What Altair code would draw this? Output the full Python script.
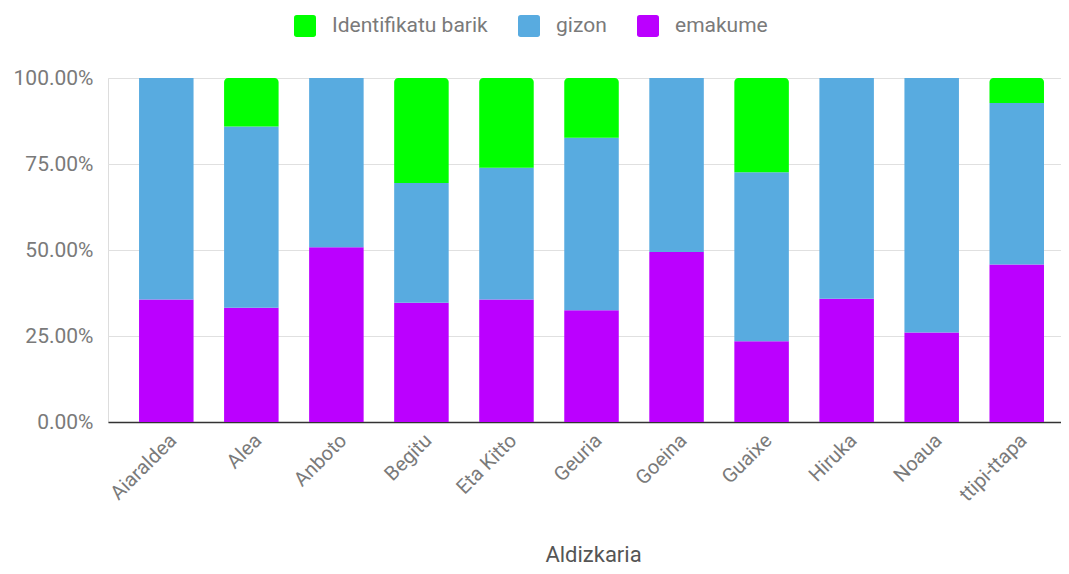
import altair as alt
import pandas as pd

categories = ["Aiaraldea", "Alea", "Anboto", "Begitu", "Eta Kitto", "Geuria",
              "Goeina", "Guaixe", "Hiruka", "Noaua", "ttipi-ttapa"]
emakume = [35.6, 33.2, 50.8, 34.7, 35.6, 32.5, 49.4, 23.5, 35.8, 26.0, 45.8]
gizon = [64.4, 52.7, 49.2, 34.8, 38.3, 50.1, 50.6, 49.1, 64.2, 74.0, 46.9]
identifikatu_barik = [0, 14.1, 0, 30.5, 26.1, 17.4, 0, 27.4, 0, 0, 7.3]

series_names = ["Identifikatu barik", "gizon", "emakume"]
series_colors = ["#00ff00", "#58abe0", "#bb00ff"]

rows = []
for i, c in enumerate(categories):
    for order, (name, vals) in enumerate([("emakume", emakume), ("gizon", gizon),
                                          ("Identifikatu barik", identifikatu_barik)]):
        if vals[i] > 0:
            rows.append({"Aldizkaria": c, "Generoa": name, "Balioa": vals[i] / 100.0, "ord": order})
df = pd.DataFrame(rows)

FONT = "Roboto"
rounded_square = ("M-0.75,-1 L0.75,-1 Q1,-1 1,-0.75 L1,0.75 Q1,1 0.75,1 L-0.75,1 "
                  "Q-1,1 -1,0.75 L-1,-0.75 Q-1,-1 -0.75,-1 Z")

base = alt.Chart(df).transform_stack(
    stack="Balioa", groupby=["Aldizkaria"], as_=["y0", "y1"],
    sort=[alt.SortField("ord", order="ascending")]
)

x_enc = alt.X(
    "Aldizkaria:N", sort=categories,
    scale=alt.Scale(paddingInner=0.359, paddingOuter=0.2825, align=0.646),
    axis=alt.Axis(labelAngle=-45, labelFontSize=20, labelColor="#7a7a7a", labelFont=FONT,
                  domainColor="#333333", domainWidth=1.5, ticks=False, labelPadding=8,
                  title="Aldizkaria", titleFontSize=22, titleColor="#555555", titleFont=FONT,
                  titleFontWeight="normal", titleX=485, titleAlign="center",
                  titleY=139, titleBaseline="alphabetic", grid=False)
)
y_enc = alt.Y(
    "y1:Q", scale=alt.Scale(domain=[0, 1]),
    axis=alt.Axis(values=[0, 0.25, 0.5, 0.75, 1], format=".2%", labelFontSize=21,
                  labelColor="#7a7a7a", labelFont=FONT, domain=False, ticks=False,
                  labelPadding=15, gridColor="#e0e0e0", title=None)
)
color_enc = alt.Color(
    "Generoa:N",
    scale=alt.Scale(domain=series_names, range=series_colors),
    legend=alt.Legend(orient="none", legendX=186, legendY=-63, direction="horizontal",
                      title=None, symbolType=rounded_square, symbolSize=484,
                      symbolStrokeWidth=0, labelFontSize=21, labelColor="#7a7a7a",
                      labelFont=FONT, labelOffset=16, columnPadding=30, padding=0)
)

lower = base.transform_filter(alt.datum.Generoa != "Identifikatu barik").mark_bar().encode(
    x=x_enc, y=y_enc, y2="y0:Q", color=color_enc
)
upper = base.transform_filter(alt.datum.Generoa == "Identifikatu barik").mark_bar(
    cornerRadiusTopLeft=4, cornerRadiusTopRight=4
).encode(
    x=x_enc, y=y_enc, y2="y0:Q", color=color_enc
)

chart = alt.layer(lower, upper).properties(
    width=953, height=344,
    padding={"left": 100, "top": 70, "right": 0, "bottom": 144},
    autosize=alt.AutoSizeParams(type="none")
).configure_view(strokeWidth=0).configure(font=FONT)

chart.save("out.html", embed_options={"renderer": "svg", "actions": False})
